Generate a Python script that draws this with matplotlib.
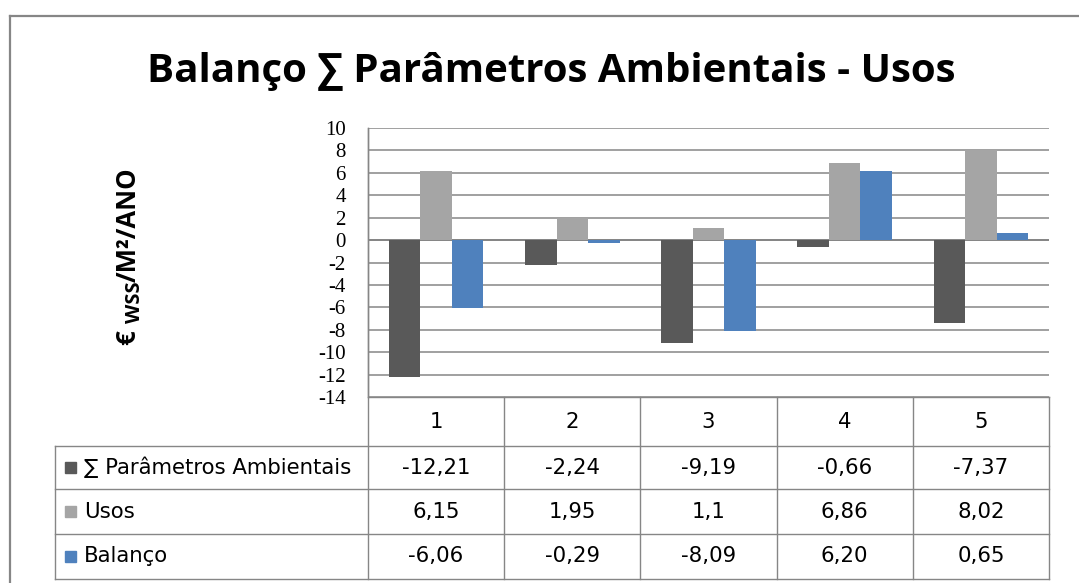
import matplotlib
matplotlib.use("Agg")
import matplotlib.pyplot as plt
from matplotlib.patches import Rectangle

plt.rcParams['font.family'] = ['DejaVu Sans']

# ---- data ----
categories = ["1", "2", "3", "4", "5"]
series_names = ["\u2211 Parâmetros Ambientais", "Usos", "Balanço"]
param_txt = ["-12,21", "-2,24", "-9,19", "-0,66", "-7,37"]
usos_txt = ["6,15", "1,95", "1,1", "6,86", "8,02"]
balanco_txt = ["-6,06", "-0,29", "-8,09", "6,20", "0,65"]
series_txt = [param_txt, usos_txt, balanco_txt]
series_vals = [[float(s.replace(",", ".")) for s in row] for row in series_txt]
colors = ["#595959", "#A5A5A5", "#4F81BD"]
yticks = list(range(-14, 11, 2))

title = "Balanço \u2211 Parâmetros Ambientais - Usos"
# axis label pieces: (text, relative size, subscript)
ylabel_parts = [("€ ", 1.0, False), ("WSS", 0.78, True), ("/M²/ANO", 1.0, False)]

# ---- layout (pixels) ----
W, H = 1079, 583
DPI = 100
grid_c = "#868686"
px_left, px_right = 368, 1049
px_top, px_bot = 128, 397

fig = plt.figure(figsize=(W / DPI, H / DPI), dpi=DPI)
fig.patch.set_facecolor("white")

# overlay axes in pixel coordinates for frame, axis label and data table
ov = fig.add_axes([0, 0, 1, 1])
ov.set_xlim(0, W)
ov.set_ylim(H, 0)
ov.axis("off")

ax = fig.add_axes([px_left / W, 1 - px_bot / H, (px_right - px_left) / W,
                   (px_bot - px_top) / H])
n = len(categories)
bw = 0.232
for i, (vals, col) in enumerate(zip(series_vals, colors)):
    xs = [k + (i - 1) * bw for k in range(n)]
    ax.bar(xs, vals, width=bw, color=col, zorder=3)
ax.set_xlim(-0.5, n - 0.5)
ax.set_ylim(-14, 10)
ax.set_yticks(yticks)
ax.set_yticklabels([str(t) for t in yticks])
ax.tick_params(axis="y", length=0, pad=16, labelsize=15,
               labelfontfamily="Liberation Serif")
ax.set_xticks([])
ax.yaxis.grid(True, color=grid_c, lw=1.1, zorder=1)
for s in ["top", "right", "bottom"]:
    ax.spines[s].set_visible(False)
ax.spines["left"].set_color(grid_c)
ax.spines["left"].set_linewidth(1.0)
ax.axhline(0, color=grid_c, lw=1.4, zorder=2)
ax.set_facecolor("none")

# outer frame
ov.plot([10, W + 5], [16, 16], color=grid_c, lw=1.6, clip_on=False)
ov.plot([10, 10], [16, H + 5], color=grid_c, lw=1.6, clip_on=False)

# title
ov.text(551, 82, title, ha="center", va="baseline", fontsize=29,
        fontweight="bold", family=["Open Sans", "DejaVu Sans"])

# rotated axis label with subscript, built from pieces
lab_fs = 18.5
lab_base_x = 136
lab_center_y = 256
renderer = fig.canvas.get_renderer()
pieces = []
y_cur = 0.0
for txt, rel, sub in ylabel_parts:
    fs = lab_fs * rel
    shift = fs * 0.3 if sub else 0.0
    t = ov.text(lab_base_x + shift, y_cur, txt, rotation=90,
                rotation_mode="anchor", ha="left", va="baseline",
                fontsize=fs, fontweight="bold",
                family=["Open Sans", "DejaVu Sans"])
    ext = t.get_window_extent(renderer)
    pieces.append(t)
    y_cur -= ext.height
total = -y_cur
for t in pieces:
    x0, y0 = t.get_position()
    t.set_position((x0, y0 + lab_center_y + total / 2))

# data table
col_w = (px_right - px_left) / n
col_edges = [px_left + k * col_w for k in range(n + 1)]
row_edges = [px_bot, 446, 489, 534, 579]
tab_left = 55
lw_t = 1.0
tab_fs = 15.3
tab_font = ["DejaVu Sans"]
# header row
ov.plot([px_left, px_right], [row_edges[0]] * 2, color=grid_c, lw=lw_t)
for y in row_edges[1:]:
    ov.plot([tab_left, px_right], [y, y], color=grid_c, lw=lw_t)
for x in col_edges:
    ov.plot([x, x], [px_top if x == px_left else row_edges[0], row_edges[-1]],
            color=grid_c, lw=lw_t)
ov.plot([tab_left, tab_left], [row_edges[1], row_edges[-1]], color=grid_c,
        lw=lw_t)

for k, c in enumerate(categories):
    xc = (col_edges[k] + col_edges[k + 1]) / 2
    yc = (row_edges[0] + row_edges[1]) / 2
    ov.text(xc, yc, c, ha="center", va="center", fontsize=tab_fs,
            family=tab_font)

for r, (name, txts, col) in enumerate(zip(series_names, series_txt, colors)):
    yc = (row_edges[r + 1] + row_edges[r + 2]) / 2
    ov.add_patch(Rectangle((65, yc - 5.5), 11, 11, color=col))
    ov.text(84, yc, name, ha="left", va="center", fontsize=tab_fs,
            family=tab_font)
    for k, t in enumerate(txts):
        xc = (col_edges[k] + col_edges[k + 1]) / 2
        ov.text(xc, yc, t, ha="center", va="center", fontsize=tab_fs,
                family=tab_font)

fig.savefig("out.png", dpi=DPI, facecolor="white")
